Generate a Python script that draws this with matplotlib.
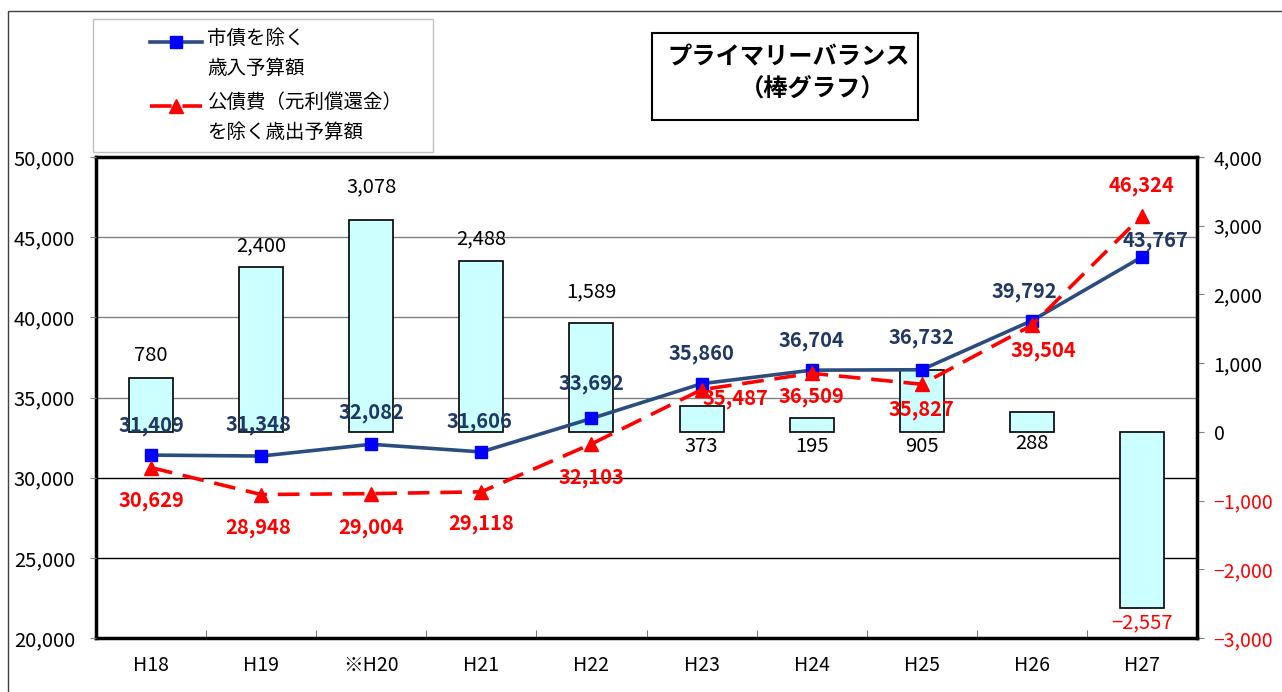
import matplotlib
matplotlib.use("Agg")
import matplotlib.pyplot as plt
import matplotlib.transforms as mtransforms
from matplotlib.patches import Rectangle
from matplotlib.lines import Line2D

plt.rcParams['font.family'] = ['Noto Sans CJK JP', 'DejaVu Sans']

# データ
years = ['H18', 'H19', '※H20', 'H21', 'H22', 'H23', 'H24', 'H25', 'H26', 'H27']
revenue = [31409, 31348, 32082, 31606, 33692, 35860, 36704, 36732, 39792, 43767]
expense = [30629, 28948, 29004, 29118, 32103, 35487, 36509, 35827, 39504, 46324]
balance = [780, 2400, 3078, 2488, 1589, 373, 195, 905, 288, -2557]
left_ticks = [20000, 25000, 30000, 35000, 40000, 45000, 50000]
right_ticks = [-3000, -2000, -1000, 0, 1000, 2000, 3000, 4000]

# ラベル位置の調整 (ピクセル)
blue_off = [(0, 30), (-3, 32), (0, 32), (-2, 30), (0, 35), (0, 30), (0, 30), (0, 32), (-8, 29), (14, 16)]
red_off = [(0, -33), (-3, -33), (0, -34), (0, -32), (0, -34), (34, -9), (0, -23), (0, -25), (12, -25), (0, 30)]
bar_dy = [23, 21, 34, 22, 31, -15, -15, -15, -12, -15]


def fmt(v):
    return f"{v:,}".replace('-', '\u2212')


W, H = 1282, 692
fig = plt.figure(figsize=(W / 100, H / 100), dpi=100)

# 枠・凡例・タイトル用のオーバーレイ (ピクセル座標)
ov = fig.add_axes([0, 0, 1, 1])
ov.set_xlim(0, W)
ov.set_ylim(H, 0)
ov.set_axis_off()
ov.add_patch(Rectangle((8, 11), W, H, fill=False, edgecolor='#404040', lw=1))
ov.add_patch(Rectangle((93, 19), 340, 133, fill=False, edgecolor='#C0C0C0', lw=1))
ov.add_patch(Rectangle((652, 33), 266, 87, fill=False, edgecolor='black', lw=1.5))
ov.text(789, 57, 'プライマリーバランス', ha='center', va='center', fontsize=17.5, fontweight='bold')
ov.text(813, 89, '（棒グラフ）', ha='center', va='center', fontsize=17.5, fontweight='bold')

# 凡例
ov.add_line(Line2D([150, 202], [42, 42], color='#2B4C7E', lw=2.6))
ov.plot([176], [42], marker='s', color='blue', ms=9, ls='none')
ov.add_line(Line2D([150, 202], [106, 106], color='red', lw=2.6, ls=(0, (6, 3))))
ov.plot([176], [106], marker='^', color='red', ms=10, ls='none')
shift = mtransforms.ScaledTranslation(0, 0.14, fig.dpi_scale_trans)
ov.text(207, 42, '市債を除く\n歳入予算額', ha='left', va='top', fontsize=14,
        linespacing=1.55, transform=ov.transData + shift)
ov.text(207, 106, '公債費（元利償還金）\nを除く歳出予算額', ha='left', va='top', fontsize=14,
        linespacing=1.55, transform=ov.transData + shift)

# メインの軸
ax = fig.add_axes([96 / W, 54 / H, 1101 / W, 481 / H])
x = list(range(len(years)))
ax.bar(x, balance, width=0.4, color='#CCFFFF', edgecolor='black', lw=1.2, zorder=2)
ax.set_ylim(-3000, 4000)
ax.set_xlim(-0.5, len(years) - 0.5)

ax2 = ax.twinx()
ax.yaxis.tick_right()
ax2.yaxis.tick_left()
ax2.set_ylim(20000, 50000)

# 目盛線 (左軸基準、棒の後ろ)
trans = mtransforms.blended_transform_factory(ax.transAxes, ax2.transData)
for v in left_ticks[1:-1]:
    ax.plot([0, 1], [v, v], transform=trans, color='#808080' if v >= 35000 else 'black',
            lw=1, zorder=1)

ax2.plot(x, revenue, color='#2B4C7E', lw=2.6, marker='s', mfc='blue', mec='blue', ms=9, zorder=3)
ax2.plot(x, expense, color='red', lw=2.6, ls=(0, (6, 3)), marker='^', mfc='red', mec='red', ms=10, zorder=4)

for i in x:
    ax2.annotate(fmt(revenue[i]), (i, revenue[i]), xytext=blue_off[i], textcoords='offset pixels',
                 ha='center', va='center', fontsize=14.5, fontweight='bold', color='#1F3864', zorder=5)
    ax2.annotate(fmt(expense[i]), (i, expense[i]), xytext=red_off[i], textcoords='offset pixels',
                 ha='center', va='center', fontsize=14.5, fontweight='bold', color='red', zorder=5)
    anchor = balance[i] if bar_dy[i] > 0 else min(balance[i], 0)
    ax.annotate(fmt(balance[i]), (i, anchor), xytext=(0, bar_dy[i]), textcoords='offset pixels',
                ha='center', va='center', fontsize=14.5, color='red' if balance[i] < 0 else 'black')

# 軸の体裁
ax.set_xticks(x)
ax.set_xticklabels(years, fontsize=14)
ax.set_xticks([i + 0.5 for i in x[:-1]], minor=True)
ax.tick_params(axis='x', which='major', length=0, pad=12)
ax.tick_params(axis='x', which='minor', direction='in', length=6, color='#606060')

ax.set_yticks(right_ticks)
ax.set_yticklabels([fmt(v) for v in right_ticks], fontsize=14)
for lbl, v in zip(ax.get_yticklabels(), right_ticks):
    if v < 0:
        lbl.set_color('red')
ax.tick_params(axis='y', which='both', direction='out', length=5, color='#808080', pad=7)

ax2.set_yticks(left_ticks)
ax2.set_yticklabels([fmt(v) for v in left_ticks], fontsize=14.5)
ax2.tick_params(axis='y', direction='out', length=4, color='#808080', pad=11)

for s in ax.spines.values():
    s.set_linewidth(2.5)
    s.set_color('black')
for s in ax2.spines.values():
    s.set_visible(False)

fig.savefig('out.png', dpi=100)
